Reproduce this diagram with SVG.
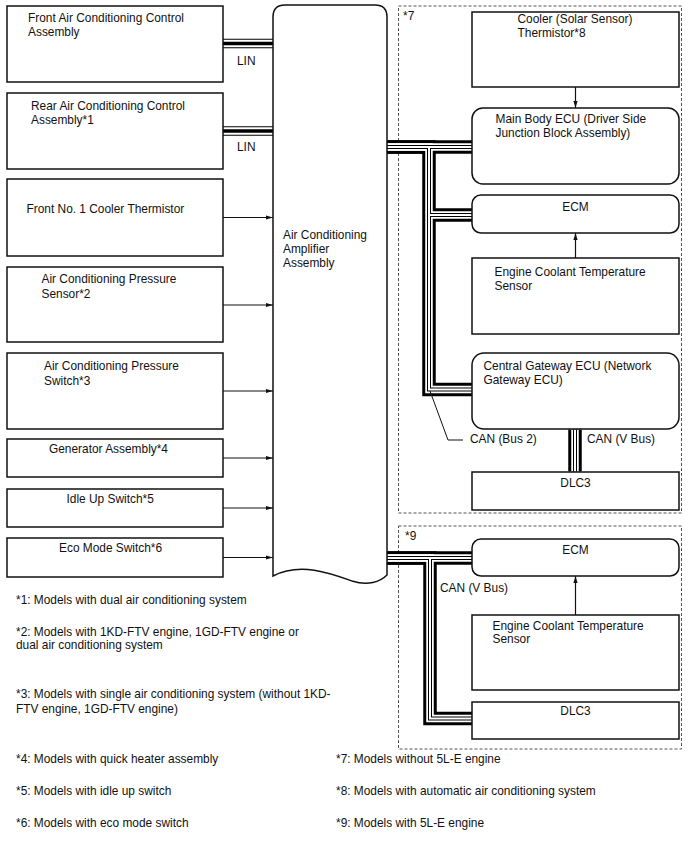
<svg xmlns="http://www.w3.org/2000/svg" xmlns:xlink="http://www.w3.org/1999/xlink" width="688" height="852" viewBox="0 0 688 852">
<style>
text{font-family:"Liberation Sans",Arial,sans-serif;font-size:11.9px;fill:#111}
.box{fill:#fff;stroke:#111;stroke-width:1.5}
.dash{fill:none;stroke:#555;stroke-width:1;stroke-dasharray:3,2}
.arr{fill:none;stroke:#111;stroke-width:1.2;marker-end:url(#ah)}
.b1{fill:none;stroke:#000;stroke-width:13.5}
.b2{fill:none;stroke:#fff;stroke-width:7.5}
.b3{fill:none;stroke:#000;stroke-width:4}
.b4{fill:none;stroke:#fff;stroke-width:2}
.l1{fill:none;stroke:#000;stroke-width:9.5}
.l2{fill:none;stroke:#fff;stroke-width:7.5}
.l3{fill:none;stroke:#000;stroke-width:3.5}
.thin{fill:none;stroke:#111;stroke-width:1}
.mid{text-anchor:middle}
</style>
<defs>
<marker id="ah" viewBox="0 0 10 10" refX="10" refY="5" markerWidth="7" markerHeight="7" markerUnits="userSpaceOnUse" orient="auto"><path d="M0,2 L10,5 L0,8 z" fill="#111"/></marker>
<path id="c7a" d="M387,147 H472"/>
<path id="c7b" d="M387,147 H429 V389.5 H472"/>
<path id="c7c" d="M429,215 H472"/>
<path id="c7d" d="M575,429.5 V471.5"/>
<path id="c9a" d="M387,558 H472"/>
<path id="c9b" d="M387,558 H430 V718.5 H472"/>
<path id="lin1" d="M223,43.5 H274"/>
<path id="lin2" d="M223,131 H274"/>
</defs>
<rect width="688" height="852" fill="#fff"/>

<g id="group7"><rect class="dash" x="398.5" y="6" width="283" height="507"/><text x="403" y="20">*7</text></g>
<g id="group9"><rect class="dash" x="398.5" y="526" width="283" height="223"/><text x="405" y="540">*9</text></g>

<g id="connectors">
<use href="#lin1" class="l1"/><use href="#lin2" class="l1"/>
<use href="#lin1" class="l2"/><use href="#lin2" class="l2"/>
<use href="#lin1" class="l3"/><use href="#lin2" class="l3"/>
<use href="#c7a" class="b1"/><use href="#c7b" class="b1"/><use href="#c7c" class="b1"/><use href="#c7d" class="b1"/><use href="#c9a" class="b1"/><use href="#c9b" class="b1"/>
<use href="#c7a" class="b2"/><use href="#c7b" class="b2"/><use href="#c7c" class="b2"/><use href="#c7d" class="b2"/><use href="#c9a" class="b2"/><use href="#c9b" class="b2"/>
<use href="#c7a" class="b3"/><use href="#c7b" class="b3"/><use href="#c7c" class="b3"/><use href="#c7d" class="b3"/><use href="#c9a" class="b3"/><use href="#c9b" class="b3"/>
<use href="#c7a" class="b4"/><use href="#c7b" class="b4"/><use href="#c7c" class="b4"/><use href="#c7d" class="b4"/><use href="#c9a" class="b4"/><use href="#c9b" class="b4"/>
<path class="arr" d="M223,217.5 H273"/>
<path class="arr" d="M223,305 H273"/>
<path class="arr" d="M223,391 H273"/>
<path class="arr" d="M223,458 H273"/>
<path class="arr" d="M223,508 H273"/>
<path class="arr" d="M223,557.5 H273"/>
<path class="arr" d="M575.5,87 V108"/>
<path class="arr" d="M575.5,258 V233"/>
<path class="arr" d="M575.5,615 V576"/>
<path class="thin" d="M430,391 L448,440 H463"/>
<text x="237" y="65">LIN</text>
<text x="237" y="151">LIN</text>
<text x="470" y="443">CAN (Bus 2)</text>
<text x="587" y="443">CAN (V Bus)</text>
<text x="440" y="592">CAN (V Bus)</text>
</g>

<g id="front-ac-control"><rect class="box" x="7" y="6" width="216" height="76"/><text x="28" y="22">Front Air Conditioning Control</text><text x="28" y="36">Assembly</text></g>
<g id="rear-ac-control"><rect class="box" x="7" y="93" width="216" height="76"/><text x="31" y="110">Rear Air Conditioning Control</text><text x="31" y="124">Assembly*1</text></g>
<g id="front-cooler-thermistor"><rect class="box" x="7" y="179" width="216" height="77"/><text x="26.5" y="213">Front No. 1 Cooler Thermistor</text></g>
<g id="ac-pressure-sensor"><rect class="box" x="7" y="267" width="216" height="75"/><text x="41.5" y="283">Air Conditioning Pressure</text><text x="41.5" y="297.5">Sensor*2</text></g>
<g id="ac-pressure-switch"><rect class="box" x="7" y="353" width="216" height="76"/><text x="44" y="370">Air Conditioning Pressure</text><text x="44" y="384.5">Switch*3</text></g>
<g id="generator"><rect class="box" x="7" y="439" width="216" height="38"/><text x="49" y="453">Generator Assembly*4</text></g>
<g id="idle-up"><rect class="box" x="7" y="489" width="216" height="38"/><text x="66.5" y="502.5">Idle Up Switch*5</text></g>
<g id="eco-mode"><rect class="box" x="7" y="538" width="216" height="39"/><text x="59" y="551.5">Eco Mode Switch*6</text></g>

<g id="amplifier"><path class="box" d="M273,576 V17 Q273,5 285,5 H375 Q387,5 387,17 V575 C380,582 368,586 352,581 C330,573 300,562 273,576 Z"/><text x="283" y="239">Air Conditioning</text><text x="283" y="253">Amplifier</text><text x="283" y="267">Assembly</text></g>

<g id="cooler-solar"><rect class="box" x="472" y="12" width="207" height="75"/><text x="517.5" y="23">Cooler (Solar Sensor)</text><text x="517.5" y="37">Thermistor*8</text></g>
<g id="main-body-ecu"><rect class="box" x="472" y="108" width="207" height="76" rx="11"/><text x="495.5" y="123">Main Body ECU (Driver Side</text><text x="495.5" y="137">Junction Block Assembly)</text></g>
<g id="ecm7"><rect class="box" x="472" y="195" width="207" height="38" rx="9"/><text class="mid" x="575.5" y="211">ECM</text></g>
<g id="ect-sensor7"><rect class="box" x="472" y="258" width="207" height="76"/><text x="494.5" y="276">Engine Coolant Temperature</text><text x="494.5" y="290">Sensor</text></g>
<g id="gateway"><rect class="box" x="472" y="353" width="207" height="76" rx="12"/><text x="483.5" y="369.5">Central Gateway ECU (Network</text><text x="483.5" y="383.5">Gateway ECU)</text></g>
<g id="dlc3-7"><rect class="box" x="472" y="472" width="207" height="38"/><text class="mid" x="575.5" y="487">DLC3</text></g>

<g id="ecm9"><rect class="box" x="472" y="539" width="207" height="37" rx="9"/><text class="mid" x="575.5" y="553.5">ECM</text></g>
<g id="ect-sensor9"><rect class="box" x="472" y="615" width="207" height="75"/><text x="492.5" y="629.5">Engine Coolant Temperature</text><text x="492.5" y="643">Sensor</text></g>
<g id="dlc3-9"><rect class="box" x="472" y="702" width="207" height="37"/><text class="mid" x="575.5" y="715">DLC3</text></g>

<g id="notes">
<text x="16" y="604">*1: Models with dual air conditioning system</text>
<text x="16" y="636">*2: Models with 1KD-FTV engine, 1GD-FTV engine or</text>
<text x="16" y="649">dual air conditioning system</text>
<text x="16" y="698">*3: Models with single air conditioning system (without 1KD-</text>
<text x="16" y="713">FTV engine, 1GD-FTV engine)</text>
<text x="16" y="763">*4: Models with quick heater assembly</text>
<text x="16" y="795">*5: Models with idle up switch</text>
<text x="16" y="827">*6: Models with eco mode switch</text>
<text x="336" y="763">*7: Models without 5L-E engine</text>
<text x="336" y="795">*8: Models with automatic air conditioning system</text>
<text x="336" y="827">*9: Models with 5L-E engine</text>
</g>
</svg>
